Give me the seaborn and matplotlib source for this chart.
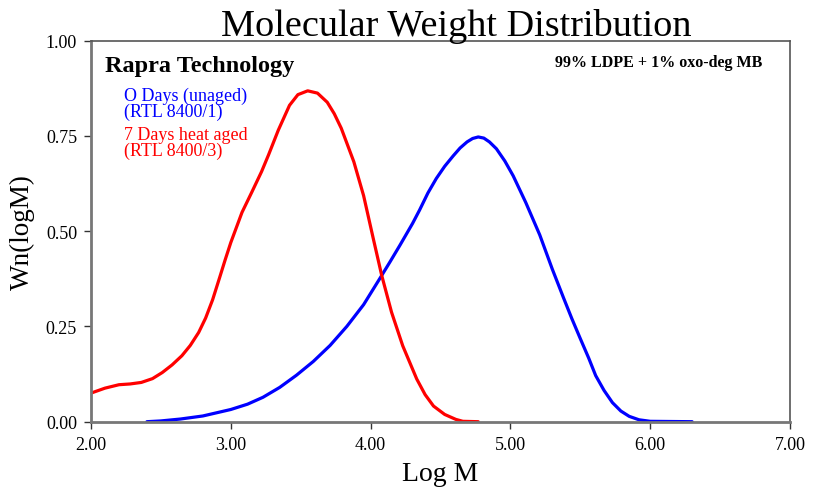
import matplotlib
matplotlib.use("Agg")
import matplotlib.pyplot as plt
import pandas as pd
import seaborn as sns

# Unaged sample (RTL 8400/1)
logm_unaged = [2.40, 2.50, 2.64, 2.80, 3.00, 3.12, 3.23, 3.35, 3.47, 3.59, 3.71,
               3.83, 3.95, 4.07, 4.14, 4.21, 4.30, 4.35, 4.41, 4.47, 4.53, 4.59,
               4.64, 4.69, 4.73, 4.77, 4.81, 4.85, 4.90, 4.96, 5.02, 5.11, 5.21,
               5.30, 5.38, 5.44, 5.50, 5.56, 5.61, 5.67, 5.73, 5.79, 5.85, 5.92,
               6.00, 6.30]
wn_unaged = [0.000, 0.002, 0.007, 0.015, 0.032, 0.046, 0.064, 0.090, 0.122, 0.158,
             0.200, 0.250, 0.307, 0.378, 0.420, 0.463, 0.520, 0.555, 0.600, 0.638,
             0.670, 0.697, 0.718, 0.734, 0.743, 0.747, 0.744, 0.734, 0.716, 0.684,
             0.645, 0.575, 0.490, 0.400, 0.325, 0.270, 0.218, 0.167, 0.121, 0.082,
             0.050, 0.028, 0.014, 0.005, 0.001, 0.000]

# 7 days heat aged sample (RTL 8400/3)
logm_aged = [2.00, 2.10, 2.20, 2.28, 2.36, 2.44, 2.51, 2.58, 2.65, 2.71, 2.77,
             2.82, 2.87, 2.92, 2.96, 3.00, 3.08, 3.15, 3.22, 3.27, 3.34, 3.42,
             3.48, 3.55, 3.62, 3.69, 3.74, 3.79, 3.88, 3.95, 4.02, 4.08, 4.15,
             4.23, 4.33, 4.39, 4.45, 4.53, 4.61, 4.66, 4.77]
wn_aged = [0.075, 0.088, 0.097, 0.099, 0.103, 0.113, 0.129, 0.149, 0.173, 0.200,
           0.234, 0.272, 0.320, 0.378, 0.425, 0.470, 0.549, 0.602, 0.656, 0.700,
           0.765, 0.830, 0.858, 0.868, 0.862, 0.838, 0.808, 0.770, 0.682, 0.593,
           0.479, 0.383, 0.287, 0.199, 0.112, 0.071, 0.041, 0.019, 0.006, 0.001,
           0.000]

x_ticks = [2.0, 3.0, 4.0, 5.0, 6.0, 7.0]
y_ticks = [0.0, 0.25, 0.5, 0.75, 1.0]

df = pd.concat([
    pd.DataFrame({"logM": logm_unaged, "Wn": wn_unaged, "sample": "unaged"}),
    pd.DataFrame({"logM": logm_aged, "Wn": wn_aged, "sample": "aged"}),
])

sns.set_style("white")
plt.rcParams["font.family"] = ["Liberation Serif", "DejaVu Serif"]
plt.rcParams["text.color"] = "black"
plt.rcParams["axes.labelcolor"] = "black"

fig = plt.figure(figsize=(8.14, 4.89), dpi=100)
ax = fig.add_axes([0.1118, 0.1356, 0.8587, 0.7795])

sns.lineplot(data=df, x="logM", y="Wn", hue="sample",
             palette={"unaged": "#0000ff", "aged": "#ff0000"},
             linewidth=2.3, legend=False, ax=ax, sort=False,
             estimator=None)
for line in ax.lines:
    line.set_solid_joinstyle("round")

ax.set_xlim(2.0, 7.0)
ax.set_ylim(0.0, 1.0)
ax.set_xticks(x_ticks)
ax.set_xticklabels([f"{v:.2f}" for v in x_ticks])
ax.set_yticks(y_ticks)
ax.set_yticklabels([f"{v:.2f}" for v in y_ticks])
ax.tick_params(axis="both", which="major", direction="out", length=5,
               width=1, color="#333333", labelsize=13, labelcolor="black",
               pad=5, left=True, bottom=True)

for side in ("left", "bottom"):
    ax.spines[side].set_color("#777777")
    ax.spines[side].set_linewidth(2.0)
for side in ("top", "right"):
    ax.spines[side].set_color("#555555")
    ax.spines[side].set_linewidth(1.2)

ax.set_xlabel("Log M", fontsize=20, labelpad=6)
ax.set_ylabel("Wn(logM)", fontsize=19.5, labelpad=8)

fig.text(0.561, 0.927, "Molecular Weight Distribution", ha="center",
         va="baseline", fontsize=27.5)

ax.text(0.020, 0.962, "Rapra Technology", transform=ax.transAxes,
        fontsize=17.5, fontweight="bold", va="top", ha="left")
ax.text(0.960, 0.965, "99% LDPE + 1% oxo-deg MB", transform=ax.transAxes,
        fontsize=11.5, fontweight="bold", va="top", ha="right")

ax.text(0.047, 0.878, "O Days (unaged)\n(RTL 8400/1)", transform=ax.transAxes,
        fontsize=13, color="#0000ff", va="top", ha="left", linespacing=0.85)
ax.text(0.047, 0.775, "7 Days heat aged\n(RTL 8400/3)", transform=ax.transAxes,
        fontsize=13, color="#ff0000", va="top", ha="left", linespacing=0.85)

fig.savefig("out.png", dpi=100)
